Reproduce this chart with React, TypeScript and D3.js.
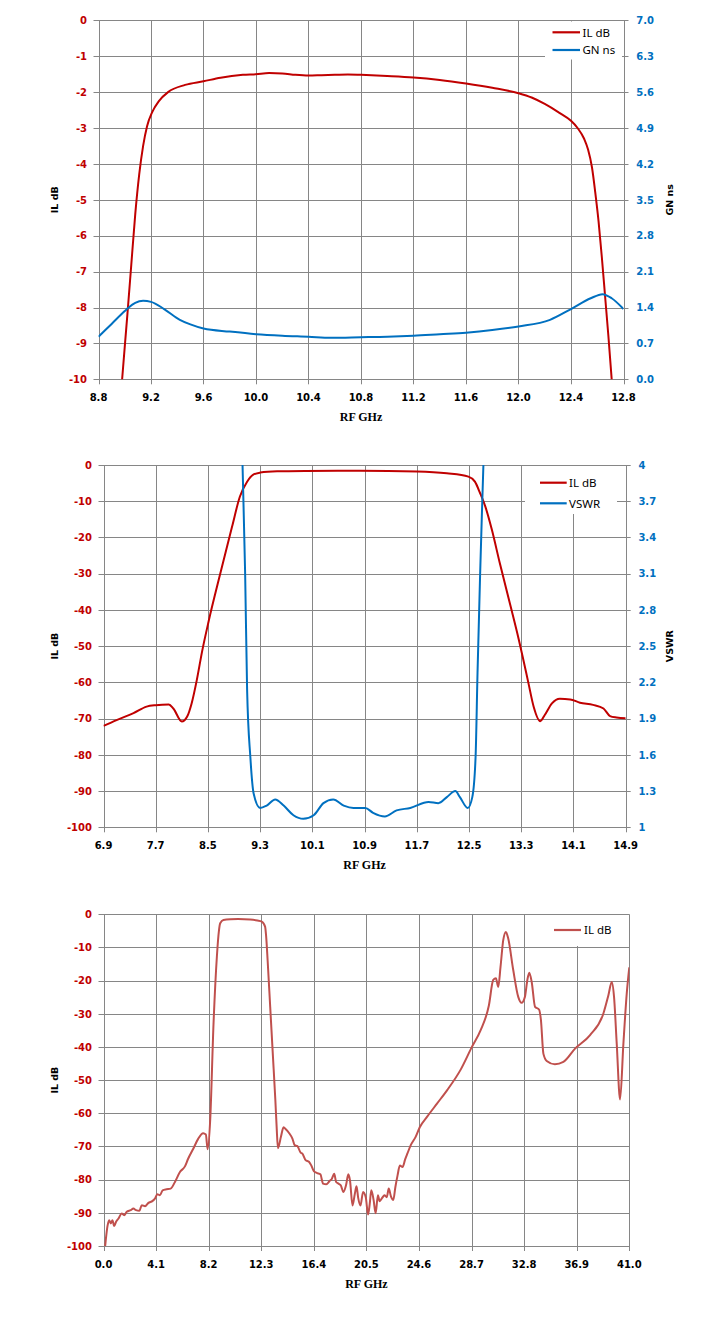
import React from "react";
import * as d3 from "d3";

// ---------- Chart 1 data (RF GHz vs IL dB / GN ns) ----------
const C1_FREQ_IL = [8.95, 8.98, 9.02, 9.05, 9.08, 9.11, 9.14, 9.17, 9.21, 9.26, 9.33, 9.46, 9.6, 9.73, 9.9, 10.0, 10.1, 10.2, 10.3, 10.4, 10.5, 10.6, 10.7, 10.8, 11.0, 11.2, 11.4, 11.6, 11.8, 12.0, 12.1, 12.2, 12.3, 12.4, 12.45, 12.5, 12.53, 12.56, 12.585, 12.61, 12.635, 12.66, 12.685, 12.71, 12.73];
const C1_IL = [-11.5, -10, -8.2, -6.8, -5.4, -4.3, -3.5, -2.95, -2.55, -2.25, -2.0, -1.8, -1.7, -1.6, -1.52, -1.5, -1.47, -1.48, -1.52, -1.54, -1.53, -1.52, -1.51, -1.52, -1.55, -1.59, -1.66, -1.76, -1.88, -2.03, -2.15, -2.33, -2.55, -2.8, -3.0, -3.3, -3.6, -4.1, -4.8, -5.6, -6.6, -7.7, -8.8, -10, -11];
const C1_FREQ_GN = [8.8, 8.9, 9.0, 9.03, 9.08, 9.14, 9.2, 9.3, 9.42, 9.5, 9.6, 9.8, 10.0, 10.2, 10.4, 10.57, 10.8, 11.0, 11.2, 11.4, 11.6, 11.8, 12.0, 12.24, 12.4, 12.55, 12.64, 12.71, 12.8];
const C1_GN = [0.83, 1.08, 1.33, 1.4, 1.49, 1.53, 1.51, 1.37, 1.16, 1.07, 0.99, 0.93, 0.88, 0.85, 0.83, 0.81, 0.82, 0.83, 0.85, 0.88, 0.91, 0.96, 1.03, 1.16, 1.37, 1.58, 1.66, 1.58, 1.37];
const C1_X_TICKS = [8.8, 9.2, 9.6, 10.0, 10.4, 10.8, 11.2, 11.6, 12.0, 12.4, 12.8];
const C1_YL_TICKS = [0, -1, -2, -3, -4, -5, -6, -7, -8, -9, -10];
const C1_YR_TICKS = [0, 0.7, 1.4, 2.1, 2.8, 3.5, 4.2, 4.9, 5.6, 6.3, 7.0];

// ---------- Chart 2 data (RF GHz vs IL dB / VSWR) ----------
const C2_FREQ_IL = [6.9, 7.1, 7.36, 7.56, 7.7, 7.9, 7.97, 8.1, 8.18, 8.25, 8.33, 8.41, 8.51, 8.69, 8.87, 8.99, 9.1, 9.2, 9.3, 9.56, 10.0, 10.83, 11.7, 12.16, 12.49, 12.59, 12.67, 12.75, 12.85, 12.97, 13.13, 13.26, 13.33, 13.41, 13.49, 13.59, 13.66, 13.77, 13.89, 14.05, 14.2, 14.4, 14.56, 14.66, 14.76, 14.9];
const C2_IL = [-72.0, -70.4, -68.5, -66.7, -66.3, -66.1, -67.2, -70.8, -69.5, -65.8, -59.3, -51.5, -43.2, -29.9, -17.0, -8.7, -4.6, -2.6, -2.1, -1.75, -1.65, -1.6, -1.8, -2.3, -3.2, -4.6, -7.8, -11.5, -17.9, -27.0, -38.5, -48.0, -53.6, -60.2, -66.7, -70.7, -69.0, -65.8, -64.5, -64.7, -65.6, -66.2, -67.2, -69.3, -69.7, -69.9];
const C2_FREQ_VSWR = [9.0, 9.03, 9.07, 9.1, 9.15, 9.2, 9.3, 9.4, 9.53, 9.66, 9.81, 9.96, 10.12, 10.27, 10.42, 10.58, 10.73, 10.91, 11.03, 11.21, 11.39, 11.6, 11.88, 12.03, 12.16, 12.29, 12.36, 12.48, 12.55, 12.6, 12.63, 12.67, 12.7, 12.72, 12.75];
const C2_VSWR = [4.8, 4.0, 3.1, 2.14, 1.58, 1.28, 1.16, 1.18, 1.23, 1.18, 1.10, 1.07, 1.10, 1.20, 1.23, 1.18, 1.16, 1.16, 1.12, 1.09, 1.14, 1.16, 1.21, 1.20, 1.25, 1.30, 1.25, 1.16, 1.25, 1.58, 2.28, 3.10, 3.65, 4.0, 4.6];
const C2_X_TICKS = [6.9, 7.7, 8.5, 9.3, 10.1, 10.9, 11.7, 12.5, 13.3, 14.1, 14.9];
const C2_YL_TICKS = [0, -10, -20, -30, -40, -50, -60, -70, -80, -90, -100];
const C2_YR_TICKS = [1, 1.3, 1.6, 1.9, 2.2, 2.5, 2.8, 3.1, 3.4, 3.7, 4];

// ---------- Chart 3 data (wideband RF GHz vs IL dB) ----------
const C3_FREQ = [0.13, 0.31, 0.44, 0.57, 0.7, 0.83, 0.98, 1.17, 1.42, 1.61, 1.81, 2.12, 2.33, 2.54, 2.8, 2.98, 3.24, 3.5, 3.83, 4.01, 4.2, 4.4, 4.61, 4.92, 5.23, 5.57, 5.96, 6.35, 6.6, 7.0, 7.38, 7.77, 7.98, 8.12, 8.32, 8.58, 8.84, 9.0, 9.1, 9.35, 9.9, 10.5, 11.43, 12.0, 12.34, 12.6, 12.68, 12.8, 13.0, 13.2, 13.4, 13.5, 13.6, 13.84, 14.04, 14.22, 14.48, 14.73, 14.91, 15.12, 15.38, 15.5, 15.76, 16.02, 16.2, 16.4, 16.66, 16.91, 17.12, 17.37, 17.63, 17.81, 17.99, 18.14, 18.32, 18.5, 18.71, 18.91, 19.09, 19.22, 19.42, 19.6, 19.73, 19.86, 20.04, 20.24, 20.45, 20.63, 20.76, 20.88, 21.06, 21.22, 21.4, 21.53, 21.73, 21.91, 22.09, 22.24, 22.42, 22.6, 22.76, 22.93, 23.11, 23.32, 23.52, 23.7, 23.96, 24.34, 24.66, 25.24, 26.02, 26.8, 27.84, 28.7, 29.4, 30.05, 30.39, 30.6, 30.78, 30.96, 31.17, 31.38, 31.56, 31.95, 32.34, 32.6, 32.86, 33.05, 33.2, 33.39, 33.65, 33.96, 34.11, 34.3, 34.56, 35.2, 35.86, 36.77, 37.94, 38.98, 39.37, 39.63, 39.81, 40.02, 40.28, 40.54, 40.8, 41.0];
const C3_IL = [-100, -94, -92.2, -93.2, -92.2, -94, -92.7, -91.7, -90.2, -90.7, -89.7, -89.2, -88.7, -89.2, -89.4, -87.7, -88, -87, -86.4, -85.7, -84.4, -84.7, -83.2, -82.9, -82.7, -80.7, -77.7, -76, -73.7, -70.7, -67.7, -66, -66.4, -70.8, -62, -32.9, -12.8, -5, -2.7, -1.7, -1.5, -1.45, -1.6, -1.9, -2.2, -3.7, -6.5, -14, -28, -42, -56, -64, -70.5, -67, -64.2, -64.8, -66, -67.6, -69.6, -69.9, -71.9, -72.1, -74.1, -74.6, -75.7, -77.4, -78, -78.4, -81.2, -81.4, -80.4, -79.7, -78.2, -80.7, -81.2, -81.7, -83.7, -81.7, -78.4, -80.2, -87.8, -84.2, -82, -85.5, -87.8, -83.7, -85.3, -90.5, -87.3, -83.2, -86.1, -90.1, -84.7, -86.5, -85.5, -84.7, -85.3, -82.7, -85.1, -86.1, -82.2, -78.7, -75.7, -76.2, -73.9, -72.1, -69.6, -67.1, -64.2, -61, -57, -53, -46.9, -40.2, -35, -27.5, -19.8, -19.3, -21.9, -15.8, -7.8, -5.3, -7.3, -16.8, -24.9, -26.7, -24.9, -19.8, -17.6, -20.4, -27.9, -28.7, -31.9, -42, -44.2, -45.2, -44.5, -40.5, -36.4, -29.9, -24.4, -20.4, -24.9, -39, -55.8, -39, -23.9, -16];
const C3_X_TICKS = [0.0, 4.1, 8.2, 12.3, 16.4, 20.5, 24.6, 28.7, 32.8, 36.9, 41.0];
const C3_YL_TICKS = [0, -10, -20, -30, -40, -50, -60, -70, -80, -90, -100];

const GRID = "#868686";
const RED = "#C00000";
const BLUE = "#0070C0";
const RED3 = "#C0504D";
const TICK_FONT = "'DejaVu Sans', Verdana, sans-serif";

type Series = { xs: number[]; ys: number[]; color: string; axis: "left" | "right"; name: string };

type ChartProps = {
  id: string;
  box: { x0: number; x1: number; y0: number; y1: number };
  xTicks: number[];
  xFmt: (v: number) => string;
  yLTicks: number[];
  yLFmt: (v: number) => string;
  yRTicks?: number[];
  yRFmt?: (v: number) => string;
  yLTitle: string;
  yRTitle?: string;
  series: Series[];
  legend: { x: number; y: number; w: number; h: number; lineX0: number; lineX1: number; textX: number; rowY: number[] };
};

function Chart(p: ChartProps) {
  const { x0, x1, y0, y1 } = p.box;
  const x = d3.scaleLinear().domain([p.xTicks[0], p.xTicks[p.xTicks.length - 1]]).range([x0, x1]);
  const yL = d3.scaleLinear().domain([d3.min(p.yLTicks)!, d3.max(p.yLTicks)!]).range([y1, y0]);
  const yR = p.yRTicks
    ? d3.scaleLinear().domain([d3.min(p.yRTicks)!, d3.max(p.yRTicks)!]).range([y1, y0])
    : yL;
  const clipId = `clip-${p.id}`;
  return (
    <g>
      <defs>
        <clipPath id={clipId}>
          <rect x={x0} y={y0} width={x1 - x0} height={y1 - y0} />
        </clipPath>
      </defs>
      {/* grid */}
      {p.yLTicks.map((t) => (
        <line key={`h${t}`} x1={x0 - 5} x2={x1 + (p.yRTicks ? 5 : 0)} y1={Math.round(yL(t)) + 0.5} y2={Math.round(yL(t)) + 0.5} stroke={GRID} strokeWidth={1} />
      ))}
      {p.xTicks.map((t) => (
        <line key={`v${t}`} x1={Math.round(x(t)) + 0.5} x2={Math.round(x(t)) + 0.5} y1={y0} y2={y1 + 5} stroke={GRID} strokeWidth={1} />
      ))}
      {/* left tick labels */}
      {p.yLTicks.map((t) => (
        <text key={`yl${t}`} x={x0 - 11.5} y={yL(t) + 3.7} textAnchor="end" fontFamily={TICK_FONT} fontWeight="bold" fontSize={10} fill={RED}>
          {p.yLFmt(t)}
        </text>
      ))}
      {/* right tick labels */}
      {p.yRTicks &&
        p.yRTicks.map((t) => (
          <text key={`yr${t}`} x={x1 + 12.7} y={yR(t) + 3.7} textAnchor="start" fontFamily={TICK_FONT} fontWeight="bold" fontSize={10} fill={BLUE}>
            {p.yRFmt!(t)}
          </text>
        ))}
      {/* x tick labels */}
      {p.xTicks.map((t) => (
        <text key={`xl${t}`} x={x(t)} y={y1 + 22} textAnchor="middle" fontFamily={TICK_FONT} fontWeight="bold" fontSize={10} fill="#000">
          {p.xFmt(t)}
        </text>
      ))}
      <text x={(x0 + x1) / 2} y={y1 + 42} textAnchor="middle" fontFamily="'Liberation Serif', 'Times New Roman', serif" fontWeight="bold" fontSize={12} fill="#000">
        RF GHz
      </text>
      <text transform={`translate(${57.5},${(y0 + y1) / 2}) rotate(-90)`} textAnchor="middle" fontFamily={TICK_FONT} fontWeight="bold" fontSize={9.5} fill="#000">
        {p.yLTitle}
      </text>
      {p.yRTitle && (
        <text transform={`translate(${672.5},${(y0 + y1) / 2}) rotate(-90)`} textAnchor="middle" fontFamily={TICK_FONT} fontWeight="bold" fontSize={9.5} fill="#000">
          {p.yRTitle}
        </text>
      )}
      {/* series */}
      <g clipPath={`url(#${clipId})`}>
        {p.series.map((s) => {
          const sc = s.axis === "left" ? yL : yR;
          const pts: [number, number][] = s.xs.map((v, i) => [v, s.ys[i]]);
          const gen = d3
            .line<[number, number]>()
            .x((d) => x(d[0]))
            .y((d) => sc(d[1]))
            .curve(d3.curveMonotoneX);
          return <path key={s.name} d={gen(pts) || ""} fill="none" stroke={s.color} strokeWidth={2} strokeLinejoin="round" />;
        })}
      </g>
      {/* legend */}
      <rect x={p.legend.x} y={p.legend.y} width={p.legend.w} height={p.legend.h} fill="#fff" />
      {p.series.map((s, i) => (
        <g key={`lg${s.name}`}>
          <line x1={p.legend.lineX0} x2={p.legend.lineX1} y1={p.legend.rowY[i]} y2={p.legend.rowY[i]} stroke={s.color} strokeWidth={2.2} />
          <text x={p.legend.textX} y={p.legend.rowY[i] + 4.2} fontFamily="'Noto Sans', 'Open Sans', sans-serif" fontSize={11.5} fill="#000">
            {s.name}
          </text>
        </g>
      ))}
    </g>
  );
}

const f1 = (v: number) => v.toFixed(1);
const f0 = (v: number) => String(v);

export default function App() {
  return (
    <svg width={718} height={1332} style={{ position: "absolute", left: 0, top: 0, background: "#fff" }}>
      <rect x={0} y={0} width={718} height={1332} fill="#fff" />
      <Chart
        id="c1"
        box={{ x0: 98.5, x1: 623.5, y0: 20.3, y1: 379.3 }}
        xTicks={C1_X_TICKS}
        xFmt={f1}
        yLTicks={C1_YL_TICKS}
        yLFmt={f0}
        yRTicks={C1_YR_TICKS}
        yRFmt={f1}
        yLTitle="IL dB"
        yRTitle="GN ns"
        series={[
          { xs: C1_FREQ_IL, ys: C1_IL, color: RED, axis: "left", name: "IL dB" },
          { xs: C1_FREQ_GN, ys: C1_GN, color: BLUE, axis: "right", name: "GN ns" },
        ]}
        legend={{ x: 545, y: 21.5, w: 77, h: 38, lineX0: 552.5, lineX1: 580, textX: 582.5, rowY: [32.3, 50] }}
      />
      <Chart
        id="c2"
        box={{ x0: 103.5, x1: 625.7, y0: 465, y1: 827.3 }}
        xTicks={C2_X_TICKS}
        xFmt={f1}
        yLTicks={C2_YL_TICKS}
        yLFmt={f0}
        yRTicks={C2_YR_TICKS}
        yRFmt={f0}
        yLTitle="IL dB"
        yRTitle="VSWR"
        series={[
          { xs: C2_FREQ_IL, ys: C2_IL, color: RED, axis: "left", name: "IL dB" },
          { xs: C2_FREQ_VSWR, ys: C2_VSWR, color: BLUE, axis: "right", name: "VSWR" },
        ]}
        legend={{ x: 525, y: 466, w: 92, h: 48, lineX0: 540, lineX1: 566.7, textX: 569, rowY: [482.7, 503.3] }}
      />
      <Chart
        id="c3"
        box={{ x0: 103.5, x1: 629.3, y0: 914.3, y1: 1246 }}
        xTicks={C3_X_TICKS}
        xFmt={f1}
        yLTicks={C3_YL_TICKS}
        yLFmt={f0}
        yLTitle="IL dB"
        series={[{ xs: C3_FREQ, ys: C3_IL, color: RED3, axis: "left", name: "IL dB" }]}
        legend={{ x: 545, y: 915, w: 83, h: 31, lineX0: 554, lineX1: 581, textX: 584, rowY: [930] }}
      />
    </svg>
  );
}
